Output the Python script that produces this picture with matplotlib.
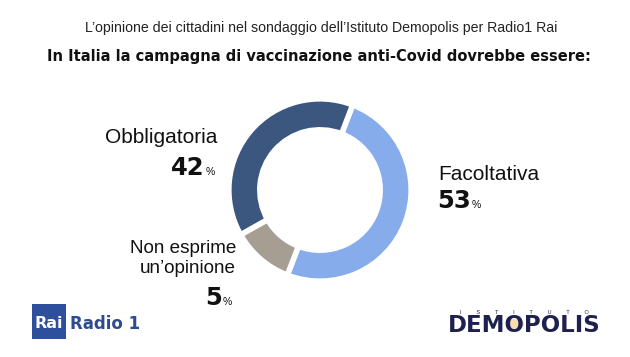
import matplotlib
matplotlib.use("Agg")
import matplotlib.pyplot as plt
from matplotlib.patches import Rectangle, Circle
from matplotlib import font_manager as fm

categories = ["Facoltativa", "Non esprime\nun'opinione", "Obbligatoria"]
values = [53, 5, 42]
# arc shares as drawn in the reference picture (the arcs are not drawn to scale)
drawn_shares = [50, 11, 39]
colors = ["#87ACEC", "#A69D93", "#3B5780"]

W, H = 630, 357
fig = plt.figure(figsize=(W / 100, H / 100), dpi=100)
fig.patch.set_facecolor("white")

def fx(x):
    return x / W

def fy(y):
    return 1 - y / H

# donut
cx, cy, r = 320, 190, 93
ax = fig.add_axes([fx(cx - r), fy(cy + r), 2 * r / W, 2 * r / H])
ax.pie(drawn_shares, colors=colors, startangle=69, counterclock=False,
       radius=1.0, wedgeprops=dict(width=0.34, edgecolor="white", linewidth=4))
ax.set_xlim(-1.02, 1.02)
ax.set_ylim(-1.02, 1.02)
ax.set_aspect("equal")
ax.axis("off")

sans = ["Liberation Sans", "DejaVu Sans"]

cond = None
for f in fm.fontManager.ttflist:
    if "DejaVuSansCondensed-Bold." in f.fname or "LiberationSansNarrow-Bold." in f.fname:
        cond = f.fname
        break

fig.text(fx(321), fy(28), "L\u2019opinione dei cittadini nel sondaggio dell\u2019Istituto Demopolis per Radio1 Rai",
         ha="center", va="center", fontsize=10.2, family=sans, color="#222222")
title = "In Italia la campagna di vaccinazione anti-Covid dovrebbe essere:"
if cond is not None:
    fig.text(fx(319), fy(57), title, ha="center", va="center",
             fontproperties=fm.FontProperties(fname=cond, size=11.7), color="#111111")
else:
    fig.text(fx(319), fy(57), title, ha="center", va="center", fontsize=12,
             family=sans, weight="bold", color="#111111")

NUM = dict(fontsize=17.5, family="DejaVu Sans", weight="heavy", color="#111111")
PCT = dict(fontsize=7.5, family=sans, color="#111111")

def number(x, y, val, ha):
    t = fig.text(fx(x), fy(y), str(val), ha=ha, va="baseline", **NUM)
    fig.canvas.draw()
    bb = t.get_window_extent()
    fig.text((bb.x1 + 1) / W, fy(y), "%", ha="left", va="baseline", **PCT)

# Obbligatoria
fig.text(fx(217), fy(143), categories[2], ha="right", va="baseline", fontsize=15,
         family=sans, color="#111111")
number(205, 175, values[2], "right")

# Facoltativa
fig.text(fx(438), fy(180), categories[0], ha="left", va="baseline", fontsize=15,
         family=sans, color="#111111")
number(437, 208, values[0], "left")

# Non esprime
fig.text(fx(236), fy(253), "Non esprime", ha="right", va="baseline", fontsize=13.6,
         family=sans, color="#111111")
fig.text(fx(236), fy(273), "un\u2019opinione", ha="right", va="baseline", fontsize=13.6,
         family=sans, color="#111111")
number(222, 305, values[1], "right")

# Rai Radio 1 logo
fig.patches.append(Rectangle((fx(32), fy(339)), 34 / W, 35 / H, transform=fig.transFigure,
                             facecolor="#2E4F9C", edgecolor="none"))
fig.text(fx(49), fy(328), "Rai", ha="center", va="baseline", fontsize=11.5,
         family="DejaVu Sans", weight="bold", color="white")
fig.text(fx(70), fy(329), "Radio 1", ha="left", va="baseline", fontsize=12,
         family="DejaVu Sans", weight="bold", color="#2E4A90")

# Demopolis logo
fig.patches.append(Circle((fx(515), fy(324)), 9 / W, transform=fig.transFigure,
                          facecolor="#F5B55A", edgecolor="none", alpha=0.45))
fig.text(fx(524), fy(332), "DEMOPOLIS", ha="center", va="baseline", fontsize=16.5,
         family="DejaVu Sans", weight="heavy", color="#1E2150")
fig.text(fx(524), fy(314), "I          S          T          I          T          U          T          O",
         ha="center", va="baseline", fontsize=4, family=sans, color="#1E2150")

fig.savefig("out.png", dpi=100, facecolor="white")
